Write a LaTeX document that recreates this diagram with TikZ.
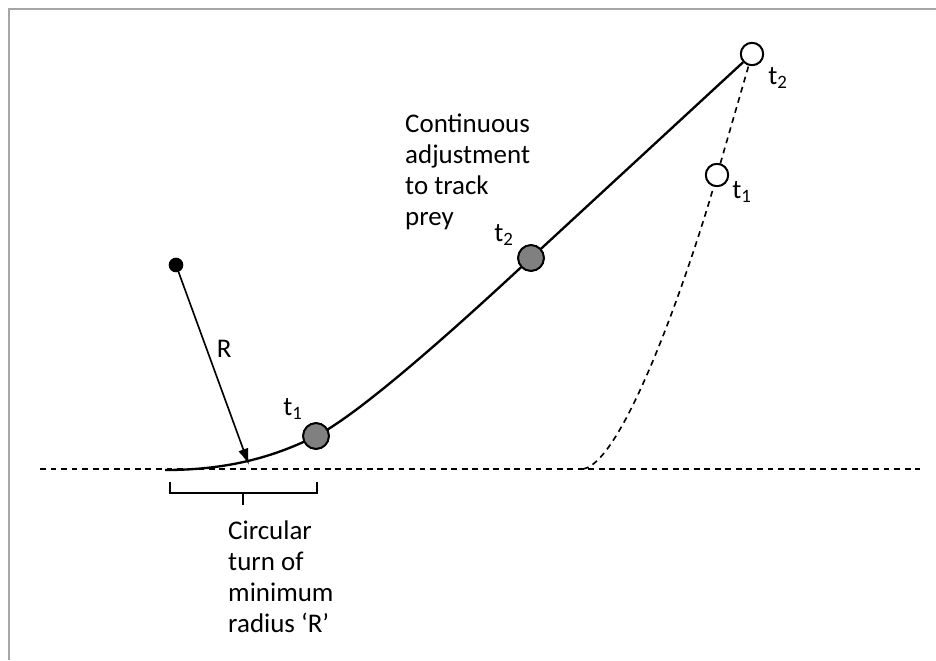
\documentclass[tikz,border=0pt]{standalone}
\usepackage{fontspec}
\setmainfont{Carlito}
\usetikzlibrary{positioning, calc, arrows.meta}
\tikzset{chaser/.style={draw, line width=1.6pt, circle, fill=gray, minimum size=22pt, inner sep=0pt},
target/.style={draw, line width=1.6pt, circle, fill=white, minimum size=19pt, inner sep=0pt},
lab/.style={font=\fontsize{23}{26.4}\selectfont, inner sep=0pt},
txt/.style={lab, align=left, anchor=north west},
line/.style={-{Latex[length=14pt, width=9pt]}, line width=1.4pt},
track/.style={line width=2pt},
guide/.style={line width=1.4pt, dash pattern=on 5pt off 4pt}
}
\begin{document}
\begin{tikzpicture}[x=0.03cm, y=-0.03cm]
\useasboundingbox (0,0) rectangle (936,660);
\draw[gray!70, line width=1pt] (9,660) -- (9,9) -- (936,9);
% ground line and the points on the paths
\coordinate (g1) at (40,469);
\coordinate (g2) at (920,469);
\draw[guide] (g1) -- (g2);
\node[circle, fill=black, minimum size=12.5pt, inner sep=0pt] (c) at (176,265) {};
\coordinate (s) at (165,470);
\coordinate (r) at (249,465);
\node[chaser] (p1) at (316,436) {};
\node[chaser] (p2) at (531,258) {};
\coordinate (d) at (583,469);
\node[target] (q1) at (717,175) {};
\node[target] (q2) at (752,54) {};
 % the paths of predator and prey
\draw[guide] (d) .. controls (625,462) and (692,262) .. (q1) -- (q2);
\draw[track] (s) .. controls (230,470) and (276,456) .. (p1.center)
  .. controls (366,411) and (487,299) .. (p2.center) -- (q2);
\node[chaser] at (p1) {};
\node[chaser] at (p2) {};
\node[target] at (q1) {};
\node[target] at (q2) {};
\draw[line] (c) -- node[lab, right=8pt, pos=0.4]{R} (r);
% brace under the turn
\coordinate (b1) at (170,482);
\coordinate (b2) at (317,482);
\coordinate (b3) at (243,493);
\draw[line width=1.4pt] (b1) -- ++(0,11) -| (b2);
\draw[line width=1.4pt] (b3) -- ++(0,12);
\node[lab] (l1) at (293,409) {t\textsubscript{1}};
\node[lab] (l2) at (504,235) {t\textsubscript{2}};
\node[lab] (l3) at (742,192) {t\textsubscript{1}};
\node[lab] (l4) at (778,78) {t\textsubscript{2}};
\node[txt] (a) at (405,114) {Continuous\\adjustment\\to track\\prey};
\node[txt] (b) at (228,521) {Circular\\turn of\\minimum\\radius ‘R’};
\end{tikzpicture}
\end{document}
